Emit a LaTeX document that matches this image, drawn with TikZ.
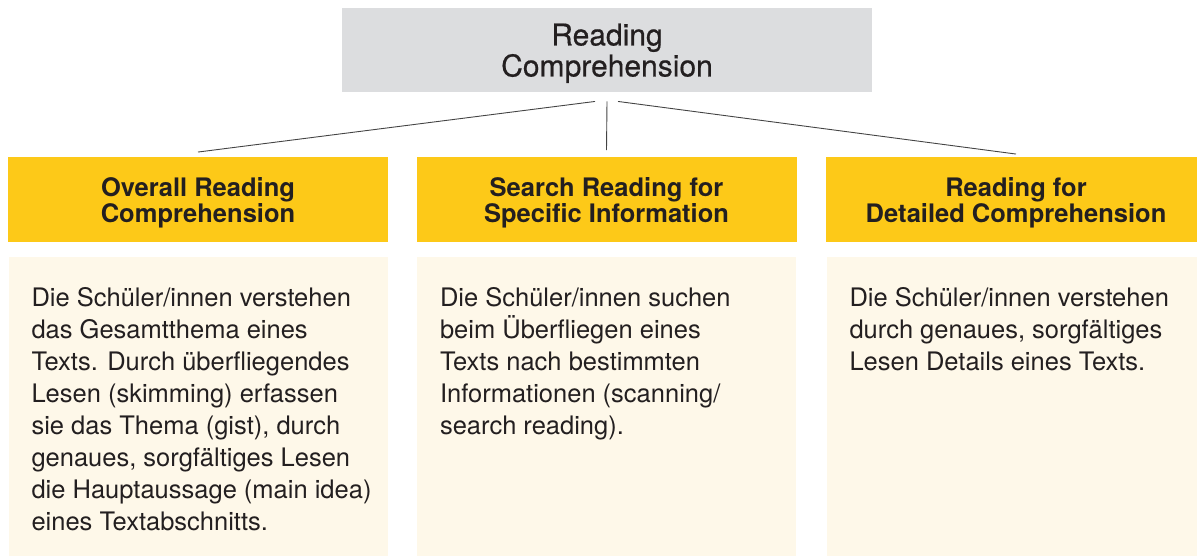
\documentclass[tikz,border=0pt]{standalone}
\usepackage{fontspec}
\setmainfont{TeX Gyre Heros}
\newfontfamily\titlefont[FakeBold=0.5]{TeX Gyre Heros}
\definecolor{topgray}{HTML}{DCDDDF}
\definecolor{headyellow}{HTML}{FDC918}
\definecolor{panelcream}{HTML}{FEF8E9}
\definecolor{inkdark}{HTML}{231F20}
\definecolor{linedark}{HTML}{444444}
\begin{document}
\begin{tikzpicture}[x=1pt,y=-1pt,line width=0.9pt,
  topbox/.style={fill=topgray,minimum width=530pt,minimum height=84pt,align=center,text=inkdark,text depth=0pt,font=\titlefont\fontsize{30}{31}\selectfont},
  headbox/.style={fill=headyellow,minimum width=380pt,minimum height=85pt,align=center,text=inkdark,text depth=0pt,font=\bfseries\fontsize{25.5}{26.5}\selectfont},
  panelbox/.style={fill=panelcream,minimum width=379pt,minimum height=300pt,anchor=north},
  bodytext/.style={anchor=north west,inner sep=0pt,align=left,text=inkdark,font=\fontsize{25.5}{32}\selectfont}]
\useasboundingbox (0,0) rectangle (1197,556);
\node[topbox] (rc) at (607,50) {Reading\\Comprehension};
\foreach \i/\x/\t in {1/198/{Overall Reading\\Comprehension},2/606.5/{Search Reading for\\Specific Information},3/1016/{Reading for\\Detailed Comprehension}}{
  \node[headbox] (h\i) at (\x,200) {\t};
  \node[panelbox] (p\i) at (\x,257) {};
};
\node[bodytext] (b1) at ([shift={(23,30.4)}]p1.north west) {Die Schüler/innen verstehen\\das Gesamtthema eines\\Texts. Durch überfliegendes\\Lesen (skimming) erfassen\\sie das Thema (gist), durch\\genaues, sorgfältiges Lesen\\die Hauptaussage (main idea)\\eines Textabschnitts.};
\node[bodytext] (b2) at ([shift={(23,30.4)}]p2.north west) {Die Schüler/innen suchen\\beim Überfliegen eines\\Texts nach bestimmten\\Informationen (scanning/\\search reading).};
\node[bodytext] (b3) at ([shift={(23,30.4)}]p3.north west) {Die Schüler/innen verstehen\\durch genaues, sorgfältiges\\Lesen Details eines Texts.};
% connectors from the top box
\coordinate (s1) at ([shift={(-12,9)}]rc.south);
\coordinate (s2) at ([shift={(0,9)}]rc.south);
\coordinate (s3) at ([shift={(11,9)}]rc.south);
\coordinate (t1) at ([shift={(0,-5)}]h1.north);
\coordinate (t2) at ([shift={(0,-7)}]h2.north);
\coordinate (t3) at ([shift={(0,-3)}]h3.north);
\draw[linedark] (s1) -- (t1);
\draw[linedark] (s2) -- (t2);
\draw[linedark] (s3) -- (t3);
\end{tikzpicture}
\end{document}
